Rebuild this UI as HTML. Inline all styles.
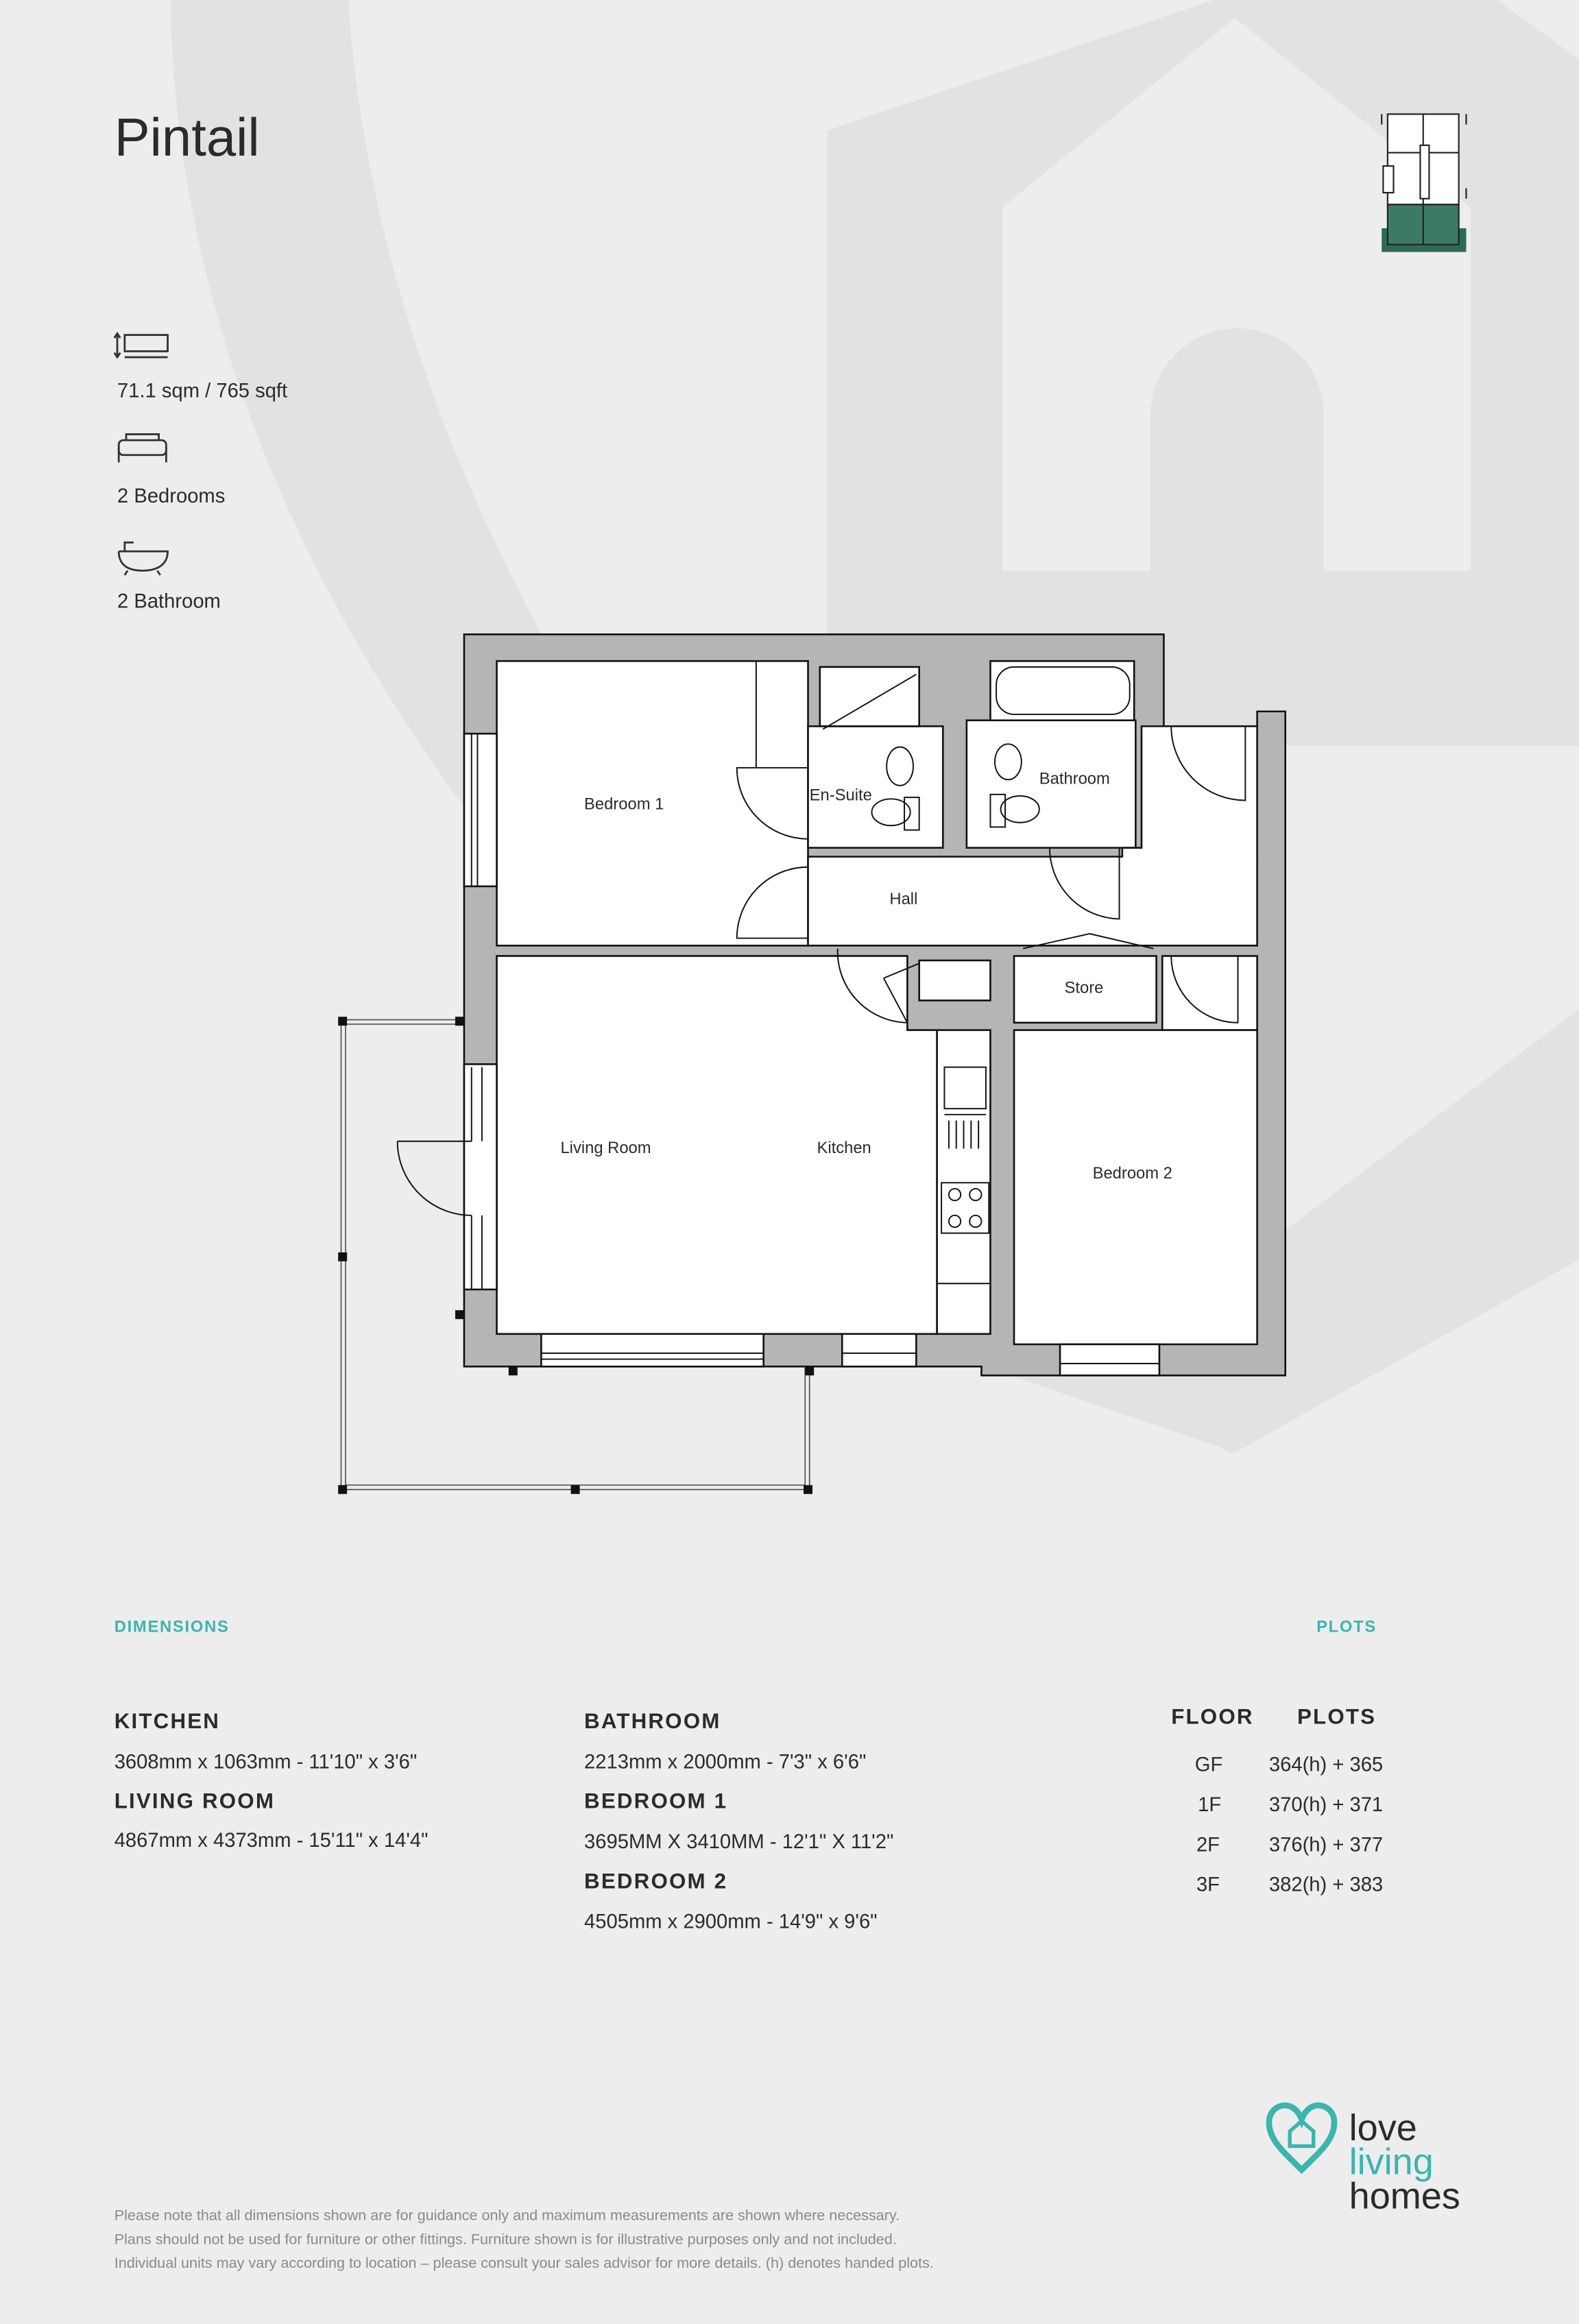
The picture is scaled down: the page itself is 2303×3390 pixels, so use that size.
<!DOCTYPE html>
<html><head><meta charset="utf-8"><style>
html,body{margin:0;padding:0;background:#ededed}
svg{display:block}
text{font-family:"Liberation Sans",sans-serif;fill:#2b2b2b}
</style></head><body>
<svg width="2303" height="3390" viewBox="0 0 1065 1568" xmlns="http://www.w3.org/2000/svg">
<rect width="1065" height="1568" fill="#ededed"/>
<!-- watermark -->
<g fill="#e2e2e2">
<path d="M115,0 L235,0 C255,330 480,700 830,920 L1065,770 L1065,850 L830,980 C480,800 120,430 115,0 Z"/>
<path d="M558,88 L833,-5 L1010,0 L1065,40 L1065,503 L558,503 Z"/>
<path d="M867,830 L1065,681 L1065,850 L833,980 L600,900 L660,860 Z"/>
</g>
<path d="M676,140 L833,12 L992,140 L992,385 L893,385 L893,280 A58,58 0 0 0 776,280 L776,385 L676,385 Z" fill="#ededed"/>

<!-- title -->
<text x="77" y="105" font-size="36">Pintail</text>

<!-- icons -->
<g stroke="#333" stroke-width="1.3" fill="none">
<rect x="84" y="226" width="29" height="11"/><path d="M84,241 L113,241 M79,226 L79,240 M77,228 L79,225 L81,228 M77,238 L79,241 L81,238"/>
<rect x="80" y="297" width="32" height="10" rx="3"/><path d="M80,302 L80,312 M112,302 L112,312 M85,297 L85,293 L107,293 L107,297"/>
<path d="M80,372 L113,372 C113,381 106,385 96,385 C86,385 80,381 80,372 M84,372 L84,366 L90,366 M86,385 L84,388 M106,385 L108,388"/>
</g>
<text x="79" y="268" font-size="13.5">71.1 sqm / 765 sqft</text>
<text x="79" y="339" font-size="13.5">2 Bedrooms</text>
<text x="79" y="410" font-size="13.5">2 Bathroom</text>

<!-- key plan -->
<rect x="932" y="154" width="57" height="16" fill="#2e6b57"/>
<g stroke="#222" stroke-width="1" fill="#fff">
<rect x="936" y="77" width="48" height="61"/>
<line x1="960" y1="77" x2="960" y2="138"/>
<line x1="936" y1="103" x2="984" y2="103"/>
<rect x="958" y="98" width="6" height="36"/>
<rect x="933" y="112" width="7" height="18"/>
<path d="M932,77 L932,84 M989,77 L989,84 M989,127 L989,134"/>
</g>
<rect x="936" y="138" width="48" height="27" fill="#3c7a63" stroke="#222" stroke-width="1"/>
<line x1="960" y1="138" x2="960" y2="165" stroke="#222"/>

<!-- floor plan -->
<g stroke="#111" stroke-width="1.2">
<path d="M313,428 L785,428 L785,490 L848,490 L848,480 L867,480 L867,928 L662,928 L662,922 L313,922 Z" fill="#b5b5b5"/>
<g fill="#fff">
<rect x="335" y="446" width="210" height="192"/>
<rect x="545" y="490" width="91" height="82"/>
<rect x="553" y="450" width="67" height="40"/>
<rect x="652" y="486" width="114" height="86"/>
<rect x="668" y="446" width="97" height="40"/>
<path d="M545,578 L757,578 L757,572 L770,572 L770,490 L848,490 L848,638 L684,638 L545,638 Z"/>
<rect x="784" y="645" width="64" height="50"/>
<rect x="684" y="645" width="96" height="45"/>
<rect x="684" y="695" width="164" height="212"/>
<path d="M335,645 L612,645 L612,695 L632,695 L632,900 L335,900 Z"/>
<rect x="620" y="648" width="48" height="27"/>
<rect x="632" y="695" width="36" height="205"/>
<rect x="313" y="495" width="22" height="103"/>
<rect x="313" y="718" width="22" height="152"/>
<rect x="365" y="900" width="150" height="22"/>
<rect x="568" y="900" width="50" height="22"/>
<rect x="715" y="907" width="67" height="21"/>
</g>
</g>
<!-- details -->
<g stroke="#111" stroke-width="0.9" fill="none">
<line x1="318" y1="495" x2="318" y2="598"/><line x1="322" y1="495" x2="322" y2="598"/>
<line x1="318" y1="720" x2="318" y2="770"/><line x1="325" y1="720" x2="325" y2="770"/>
<line x1="318" y1="820" x2="318" y2="870"/><line x1="325" y1="820" x2="325" y2="870"/>
<line x1="365" y1="913" x2="515" y2="913"/><line x1="365" y1="917" x2="515" y2="917"/>
<line x1="568" y1="913" x2="618" y2="913"/><line x1="715" y1="920" x2="782" y2="920"/>
<line x1="510" y1="446" x2="510" y2="518"/>
<line x1="555" y1="492" x2="618" y2="455"/>
<ellipse cx="607" cy="517" rx="9" ry="13"/><ellipse cx="601" cy="548" rx="13" ry="9"/><rect x="610" y="538" width="10" height="22"/>
<rect x="672" y="450" width="90" height="32" rx="12"/>
<ellipse cx="680" cy="514" rx="9" ry="12"/><ellipse cx="688" cy="546" rx="13" ry="9"/><rect x="668" y="536" width="10" height="22"/>
<rect x="637" y="720" width="28" height="28"/><line x1="637" y1="752" x2="665" y2="752"/>
<path d="M640,756 L640,775 M645,756 L645,775 M650,756 L650,775 M655,756 L655,775 M660,756 L660,775"/>
<rect x="635" y="798" width="32" height="34"/>
<circle cx="644" cy="806" r="4"/><circle cx="658" cy="806" r="4"/><circle cx="644" cy="824" r="4"/><circle cx="658" cy="824" r="4"/>
<line x1="632" y1="866" x2="668" y2="866"/>
<!-- doors -->
<path d="M545,518 L497,518 A48,48 0 0 0 545,566"/>
<path d="M545,585 L545,633 L497,633 A48,48 0 0 1 545,585"/>
<path d="M565,640 A48,48 0 0 0 612,690 L612,660"/>
<path d="M708,572 A48,48 0 0 0 755,620 L755,572"/>
<path d="M790,490 A50,50 0 0 0 840,540 L840,490"/>
<path d="M790,645 A45,45 0 0 0 835,690 L835,645"/>
<path d="M690,640 L735,630 L778,640"/>
<path d="M268,770 L318,770 M268,770 A50,50 0 0 0 318,820"/>
<path d="M596,660 L620,650 M596,660 L612,690"/>
</g>
<!-- balcony -->
<g stroke="#555" stroke-width="0.8" fill="none">
<path d="M313,688 L230,688 L230,1005 L546,1005 L546,922"/>
<path d="M313,691 L233,691 L233,1002 L543,1002 L543,922"/>
</g>
<g fill="#111">
<rect x="228" y="686" width="6" height="6"/><rect x="307" y="686" width="6" height="6"/>
<rect x="228" y="845" width="6" height="6"/><rect x="228" y="1002" width="6" height="6"/>
<rect x="385" y="1002" width="6" height="6"/><rect x="542" y="1002" width="6" height="6"/>
<rect x="343" y="922" width="6" height="6"/><rect x="543" y="922" width="6" height="6"/>
<rect x="307" y="884" width="6" height="6"/>
</g>
<g font-size="11">
<text x="394" y="546">Bedroom 1</text>
<text x="546" y="540">En-Suite</text>
<text x="701" y="529">Bathroom</text>
<text x="600" y="610">Hall</text>
<text x="718" y="670">Store</text>
<text x="378" y="778">Living Room</text>
<text x="551" y="778">Kitchen</text>
<text x="737" y="795">Bedroom 2</text>
</g>

<!-- dimensions -->
<text x="77" y="1101" font-size="11" style="fill:#3ab5b0;letter-spacing:0.8px" font-weight="bold">DIMENSIONS</text>
<text x="888" y="1101" font-size="11" style="fill:#3ab5b0;letter-spacing:0.8px" font-weight="bold">PLOTS</text>
<g font-size="14.5" font-weight="bold" style="letter-spacing:1px">
<text x="77" y="1166">KITCHEN</text><text x="77" y="1220">LIVING ROOM</text>
<text x="394" y="1166">BATHROOM</text><text x="394" y="1220">BEDROOM 1</text><text x="394" y="1274">BEDROOM 2</text>
<text x="790" y="1163">FLOOR</text><text x="875" y="1163">PLOTS</text>
</g>
<g font-size="13.5">
<text x="77" y="1193">3608mm x 1063mm - 11'10" x 3'6"</text>
<text x="77" y="1246">4867mm x 4373mm - 15'11" x 14'4"</text>
<text x="394" y="1193">2213mm x 2000mm - 7'3" x 6'6"</text>
<text x="394" y="1247">3695MM X 3410MM  - 12'1" X 11'2"</text>
<text x="394" y="1301">4505mm x 2900mm - 14'9" x 9'6"</text>
<text x="806" y="1195">GF</text><text x="856" y="1195">364(h) + 365</text>
<text x="808" y="1222">1F</text><text x="856" y="1222">370(h) + 371</text>
<text x="807" y="1249">2F</text><text x="856" y="1249">376(h) + 377</text>
<text x="807" y="1276">3F</text><text x="856" y="1276">382(h) + 383</text>
</g>

<!-- logo -->
<path d="M878,1464 C866,1452 856,1444 856,1432 C856,1422 866,1418 872,1422 C875,1424 877,1427 878,1430 C879,1427 881,1424 884,1422 C890,1418 900,1422 900,1432 C900,1444 890,1452 878,1464 Z" fill="none" stroke="#3ab5b0" stroke-width="4"/>
<path d="M870,1448 L870,1438 L878,1431 L886,1438 L886,1448 Z" fill="none" stroke="#3ab5b0" stroke-width="2.5"/>
<text x="910" y="1444" font-size="25">love</text>
<text x="910" y="1467" font-size="25" style="fill:#3ab5b0">living</text>
<text x="910" y="1490" font-size="25">homes</text>

<g font-size="10">
<text x="77" y="1498" style="fill:#8a8a8a">Please note that all dimensions shown are for guidance only and maximum measurements are shown where necessary.</text>
<text x="77" y="1514" style="fill:#8a8a8a">Plans should not be used for furniture or other fittings. Furniture shown is for illustrative purposes only and not included.</text>
<text x="77" y="1530" style="fill:#8a8a8a">Individual units may vary according to location – please consult your sales advisor for more details. (h) denotes handed plots.</text>
</g>
</svg>
</body></html>
